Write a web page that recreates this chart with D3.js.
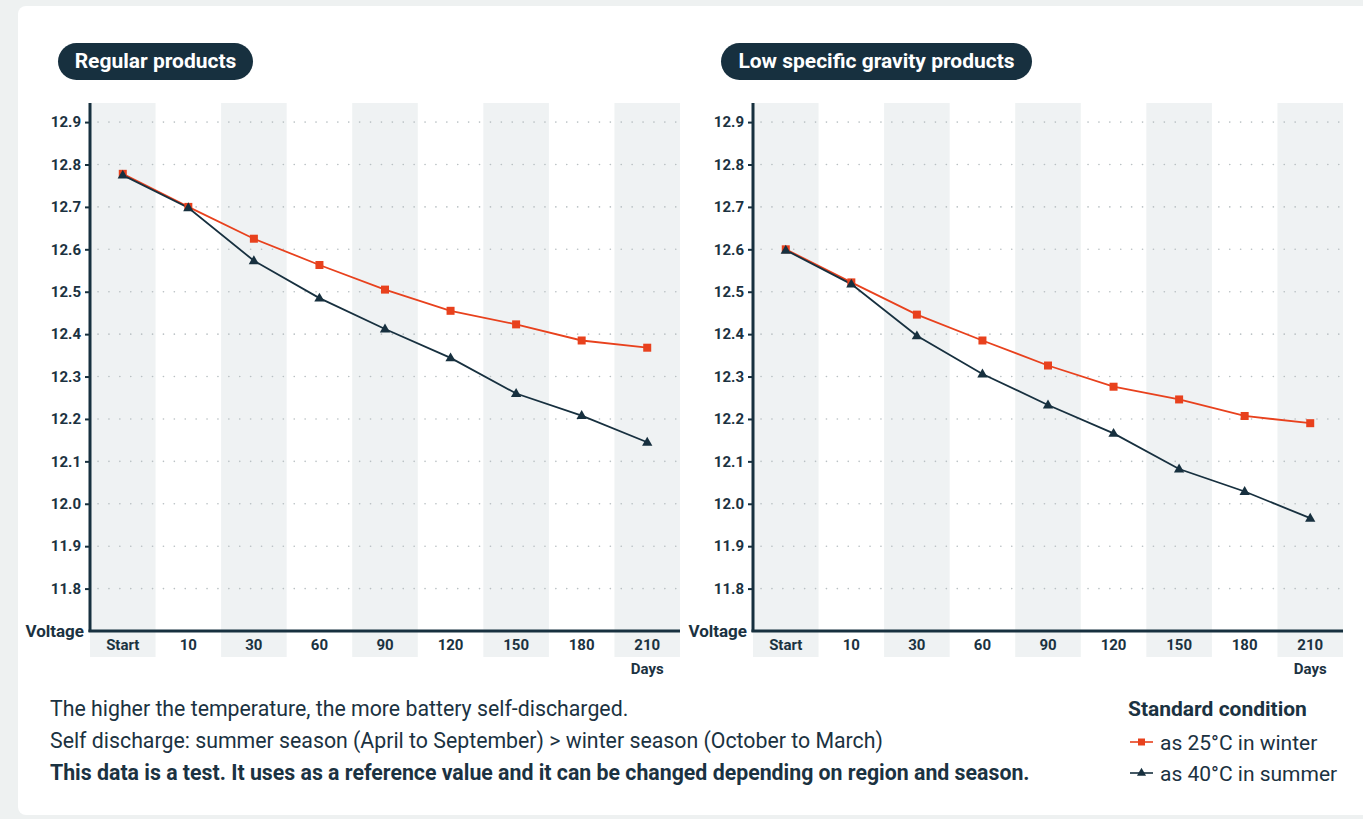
<!DOCTYPE html>
<html>
<head>
<meta charset="utf-8">
<script src="https://cdn.jsdelivr.net/npm/d3@7"></script>
<style>
  body { margin: 0; background: #eef1f1; font-family: Roboto, "Noto Sans", sans-serif; }
  svg { display: block; }
</style>
</head>
<body>
<script>
// categories and values
var days = ["Start", "10", "30", "60", "90", "120", "150", "180", "210"];
var yTicks = [11.8, 11.9, 12.0, 12.1, 12.2, 12.3, 12.4, 12.5, 12.6, 12.7, 12.8, 12.9];

var regularWinter = [12.778, 12.70, 12.625, 12.563, 12.505, 12.455, 12.423, 12.385, 12.368];
var regularSummer = [12.775, 12.698, 12.573, 12.485, 12.412, 12.344, 12.26, 12.208, 12.145];
var lowWinter = [12.60, 12.522, 12.446, 12.385, 12.326, 12.276, 12.246, 12.207, 12.19];
var lowSummer = [12.598, 12.518, 12.396, 12.306, 12.233, 12.166, 12.082, 12.029, 11.966];

var titles = ["Regular products", "Low specific gravity products"];
var notes = [
    "The higher the temperature, the more battery self-discharged.",
    "Self discharge: summer season (April to September) > winter season (October to March)",
    "This data is a test. It uses as a reference value and it can be changed depending on region and season."
];
var legendTitle = "Standard condition";
var legendItems = ["as 25°C in winter", "as 40°C in summer"];

var width = 1363, height = 819;
var orange = "#e8411d", dark = "#17303f", textColor = "#1b3241";

var svg = d3.select("body").append("svg")
    .attr("width", width)
    .attr("height", height);

// white card
svg.append("rect")
    .attr("x", 18).attr("y", 6)
    .attr("width", width).attr("height", 809)
    .attr("rx", 8)
    .attr("fill", "#fff");

// draw one panel
function drawPanel(left, title, pillWidth, winter, summer) {
    var g = svg.append("g");
    var x = d3.scaleBand().domain(days).range([left, left + 590]);
    var y = d3.scaleLinear().domain([11.7, 12.945]).range([631, 103]);

    // title pill
    g.append("rect")
        .attr("x", left - 32).attr("y", 43)
        .attr("width", pillWidth).attr("height", 37)
        .attr("rx", 18.5)
        .attr("fill", dark);
    g.append("text")
        .attr("x", left - 32 + pillWidth / 2).attr("y", 68)
        .attr("text-anchor", "middle")
        .attr("fill", "#fff")
        .attr("font-size", 21).attr("font-weight", 700)
        .text(title);

    // alternating bands
    g.selectAll("rect.band")
        .data(days.filter(function (d, i) { return i % 2 == 0; }))
        .enter().append("rect")
        .attr("class", "band")
        .attr("x", function (d) { return x(d); })
        .attr("y", 103)
        .attr("width", x.bandwidth())
        .attr("height", 554)
        .attr("fill", "#eff2f3");

    // dotted grid
    g.selectAll("line.grid")
        .data(yTicks)
        .enter().append("line")
        .attr("class", "grid")
        .attr("x1", left + 8).attr("x2", left + 590)
        .attr("y1", function (d) { return y(d); })
        .attr("y2", function (d) { return y(d); })
        .attr("stroke", "#b9c0c3")
        .attr("stroke-width", 1.6)
        .attr("stroke-linecap", "round")
        .attr("stroke-dasharray", "0.1 10.8");

    // y axis
    var yAxis = g.append("g")
        .attr("transform", "translate(" + left + ",0)")
        .call(d3.axisLeft(y).tickValues(yTicks).tickSize(5).tickPadding(4).tickFormat(d3.format(".1f")));
    yAxis.select(".domain").remove();
    yAxis.selectAll("line").attr("stroke", dark).attr("stroke-width", 2);
    yAxis.selectAll("text")
        .attr("fill", textColor).attr("font-size", 15).attr("font-weight", 700)
        .attr("font-family", "Roboto");

    // x labels
    g.selectAll("text.xl")
        .data(days)
        .enter().append("text")
        .attr("class", "xl")
        .attr("x", function (d) { return x(d) + x.bandwidth() / 2; })
        .attr("y", 650)
        .attr("text-anchor", "middle")
        .attr("fill", textColor).attr("font-size", 15).attr("font-weight", 700)
        .text(function (d) { return d; });

    // axis lines
    g.append("line")
        .attr("x1", left).attr("x2", left)
        .attr("y1", 103).attr("y2", 632)
        .attr("stroke", dark).attr("stroke-width", 3);
    g.append("line")
        .attr("x1", left - 1.5).attr("x2", left + 590)
        .attr("y1", 631).attr("y2", 631)
        .attr("stroke", dark).attr("stroke-width", 3);

    g.append("text")
        .attr("x", left - 6).attr("y", 637)
        .attr("text-anchor", "end")
        .attr("fill", textColor).attr("font-size", 17).attr("font-weight", 700)
        .text("Voltage");
    g.append("text")
        .attr("x", x("210") + x.bandwidth() / 2).attr("y", 674)
        .attr("text-anchor", "middle")
        .attr("fill", textColor).attr("font-size", 15).attr("font-weight", 700)
        .text("Days");

    var line = d3.line()
        .x(function (d, i) { return x(days[i]) + x.bandwidth() / 2; })
        .y(function (d) { return y(d); });

    g.append("path").datum(winter)
        .attr("d", line).attr("fill", "none")
        .attr("stroke", orange).attr("stroke-width", 1.8);
    g.append("path").datum(summer)
        .attr("d", line).attr("fill", "none")
        .attr("stroke", dark).attr("stroke-width", 1.8);

    g.selectAll("rect.sq")
        .data(winter)
        .enter().append("rect")
        .attr("class", "sq")
        .attr("x", function (d, i) { return x(days[i]) + x.bandwidth() / 2 - 4; })
        .attr("y", function (d) { return y(d) - 4; })
        .attr("width", 8).attr("height", 8)
        .attr("fill", orange);

    g.selectAll("path.tri")
        .data(summer)
        .enter().append("path")
        .attr("class", "tri")
        .attr("d", d3.symbol().type(d3.symbolTriangle).size(46))
        .attr("transform", function (d, i) {
            return "translate(" + (x(days[i]) + x.bandwidth() / 2) + "," + (y(d) + 0.5) + ")";
        })
        .attr("fill", dark);
}

drawPanel(90, titles[0], 195, regularWinter, regularSummer);
drawPanel(753, titles[1], 311, lowWinter, lowSummer);

// notes below the charts
svg.selectAll("text.note")
    .data(notes)
    .enter().append("text")
    .attr("class", "note")
    .attr("x", 50)
    .attr("y", function (d, i) { return 716 + i * 32; })
    .attr("fill", textColor)
    .attr("font-size", 21.3)
    .attr("font-weight", function (d, i) { return i == 2 ? 700 : 400; })
    .text(function (d) { return d; });

// legend
svg.append("text")
    .attr("x", 1128).attr("y", 716)
    .attr("fill", textColor).attr("font-size", 21).attr("font-weight", 700)
    .text(legendTitle);

var legend = svg.selectAll("g.legend")
    .data(legendItems)
    .enter().append("g")
    .attr("class", "legend")
    .attr("transform", function (d, i) { return "translate(1130," + (742 + i * 31) + ")"; });

legend.append("line")
    .attr("x1", 0).attr("x2", 23)
    .attr("stroke", function (d, i) { return i == 0 ? orange : dark; })
    .attr("stroke-width", 1.6);
legend.append("path")
    .attr("d", function (d, i) {
        return d3.symbol().type(i == 0 ? d3.symbolSquare : d3.symbolTriangle).size(i == 0 ? 49 : 36)();
    })
    .attr("transform", "translate(11.5,0)")
    .attr("fill", function (d, i) { return i == 0 ? orange : dark; });
legend.append("text")
    .attr("x", 30).attr("y", 7.5)
    .attr("fill", textColor).attr("font-size", 21)
    .text(function (d) { return d; });
</script>
</body>
</html>
